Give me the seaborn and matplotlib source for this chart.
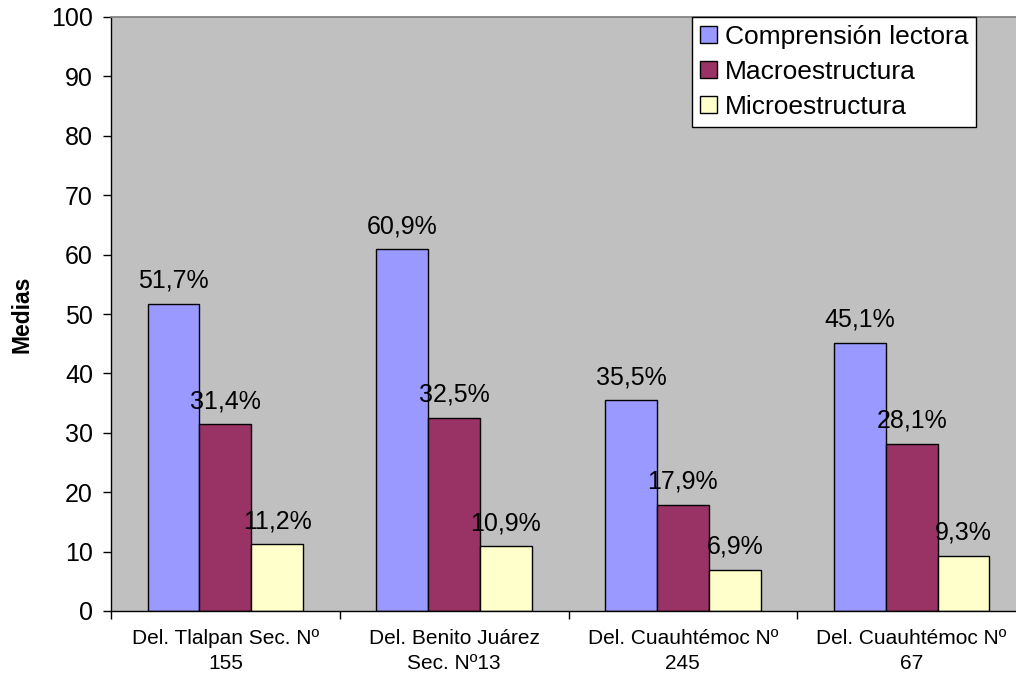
import pandas as pd
import matplotlib.pyplot as plt
import numpy as np
import seaborn as sns

escuelas = ["Del. Tlalpan Sec. Nº\n155", "Del. Benito Juárez\nSec. Nº13",
            "Del. Cuauhtémoc Nº\n245", "Del. Cuauhtémoc Nº\n67"]
series = ["Comprensión lectora", "Macroestructura", "Microestructura"]
comprension = [51.7, 60.9, 35.5, 45.1]
macro = [31.4, 32.5, 17.9, 28.1]
micro = [11.2, 10.9, 6.9, 9.3]
colores = ["#9999FF", "#993366", "#FFFFCC"]

df = pd.DataFrame({
    "escuela": escuelas * 3,
    "serie": [s for s in series for _ in escuelas],
    "valor": comprension + macro + micro,
})

sns.set_theme(style="white")
plt.rcParams['font.family'] = ['Liberation Sans', 'DejaVu Sans']
plt.rcParams['text.color'] = 'black'
plt.rcParams['xtick.color'] = 'black'
plt.rcParams['ytick.color'] = 'black'
plt.rcParams['axes.labelcolor'] = 'black'

fig = plt.figure(figsize=(10.16, 6.75), dpi=100)
ax = fig.add_axes([111/1016, 64/675, 915/1016, 594/675])
ax.set_facecolor("#C0C0C0")

sns.barplot(data=df, x="escuela", y="valor", hue="serie", palette=colores,
            width=0.68, gap=0, edgecolor="black", linewidth=1, ax=ax,
            saturation=1)

for cont in ax.containers:
    ax.bar_label(cont, labels=[f"{v:.1f}%".replace(".", ",") for v in cont.datavalues],
                 padding=8, fontsize=18, color="black")

ax.set_ylim(0, 100)
ax.set_xlim(-0.5, 3.5)
ax.set_yticks(np.arange(0, 101, 10))
ax.tick_params(axis="y", labelsize=18, length=6, width=1, color="black", left=True, pad=7)
ax.set_xticks(np.arange(-0.5, 4, 1), minor=True)
ax.tick_params(axis="x", which="major", length=0, pad=13, labelsize=15)
ax.tick_params(axis="x", which="minor", length=6, width=1, color="black", bottom=True)
for lab in ax.get_xticklabels():
    lab.set_linespacing(1.4)
ax.set_xlabel("")
ax.set_ylabel("Medias", fontsize=16.5, fontweight="bold", labelpad=13)

for s in ["top", "right"]:
    ax.spines[s].set_color("#808080")
for s in ["left", "bottom"]:
    ax.spines[s].set_color("black")
    ax.spines[s].set_linewidth(1)

leg = ax.legend(loc="upper right", fontsize=19, frameon=True,
                fancybox=False, edgecolor="black", handlelength=0.62,
                handleheight=0.62, handletextpad=0.3, borderpad=0.3,
                labelspacing=0.42, borderaxespad=0, framealpha=1)
leg.get_frame().set_linewidth(1)
leg.set_bbox_to_anchor((976/1016, 658/675), transform=fig.transFigure)

fig.savefig("out.png", dpi=100)
